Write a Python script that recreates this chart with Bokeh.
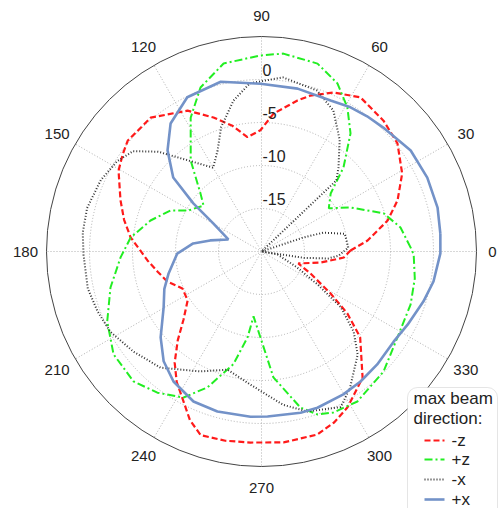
import numpy as np
from bokeh.plotting import figure
from bokeh.models import Range1d, BoxAnnotation
from bokeh.core.properties import value
from bokeh.embed import file_html
from bokeh.resources import INLINE

# ---------------- data ----------------
angle_ticks = [0, 30, 60, 90, 120, 150, 180, 210, 240, 270, 300, 330]
radial_ticks = [-15, -10, -5, 0]
r_min, r_max = -20, 5

negz_ang = [0.6, 5.9, 13.8, 20.6, 29, 38.5, 47, 57.3, 65.6, 72.6, 76.6, 85, 90.5, 97, 103,
            109.7, 117.7, 129.6, 140.4, 145, 150.5, 160, 167, 173.9, 179.5, 184.5, 191, 197.7, 205,
            213.5, 221, 226.7, 232, 237, 242.5, 247, 251.7, 259.2, 266.7, 276.6, 287, 293, 298.9,
            308.7, 319, 324.2, 328.7, 335.8, 342, 349.4, 355.8]
negz_db = [-9.65, -7.6, -4.9, -3.1, -1.3, 0.2, 0.8, 1.3, 0.3, -1.0, -1.95, -3.9, -5.9, -6.6, -5.0,
           -3.45, -1.5, 0.2, 0.2, -0.3, -0.9, -2.55, -3.6, -4.7, -5.9, -6.7, -7.7, -8.5, -9.85,
           -9.7, -8.0, -5.8, -3.6, -1.9, -0.35, 1.3, 2.5, 2.4, 2.25, 2.35, 2.25, 1.6, 0.7,
           -1.2, -4.8, -7.7, -10.6, -13.75, -15.5, -13.0, -10.4]

posz_ang = [1.5, 9.8, 17.3, 26.3, 32.7, 40, 45.7, 53, 59.2, 65.7, 73.4, 83.7, 90.3, 101.4,
            110.4, 117.9, 127.9, 136.4, 141.6, 151, 155.7, 164.4, 173.9, 182.4, 193.4, 204.4,
            214.8, 225.4, 233.6, 241.9, 248.3, 256, 260.8, 263, 269.3, 275.4, 284, 289, 294.1,
            302.6, 315.5, 327.7, 340.4, 350, 358.9]
posz_db = [-2.65, -3.6, -5.1, -8.45, -10.7, -9.5, -6.35, -2.8, -0.5, 1.45, 2.8, 3.15, 2.8, 2.3,
           0.35, -2.4, -6.6, -10.2, -11.4, -10.2, -8.4, -6.6, -4.7, -3.6, -1.95, -0.3,
           0.95, 1.2, 0.4, -0.75, -3.0, -6.5, -9.9, -12.4, -10.0, -5.3, -1.3, 0.05, 0.5,
           0.7, -0.1, -1.3, -1.6, -1.9, -2.3]

negx_ang = [2.6, 12, 17, 18.5, 19.5, 43, 43.5, 47.5, 55, 63, 71, 83, 94, 100.5, 108, 113.5,
            120, 129, 136, 142, 148, 156, 166, 174, 181, 192, 200, 208, 218, 229, 243, 254,
            265, 278, 286, 297, 303, 313, 319, 325, 329.5, 336, 349.4, 350.5, 351.5, 354, 357]
negx_db = [-9.9, -10.1, -12.5, -15.0, -20.0, -20.0, -8.0, -6.75, -4.15, -1.6, -0.2, 0.4, -0.4,
           -2.15, -4.8, -7.2, -8.75, -6.35, -3.3, -1.05, -0.2, 0.45, 0.9, 0.9, 0.7, 0.65, 0.3,
           -0.1, -1.1, -2.1, -4.35, -5.7, -4.5, -2.0, -0.65, 0.3, -1.1, -3.6, -5.8, -8.75,
           -12.4, -15.5, -18.1, -20.0, -15.0, -12.2, -11.0]

posx_ang = [5.7, 14, 24, 34.1, 45.5, 52, 58.3, 65.4, 77.5, 90.3, 103.5, 115.7, 125.4, 132.9, 140,
            144.8, 149.7, 160, 167.8, 173.3, 181.4, 193.3, 201, 209.7, 220.4, 228.3, 235.9, 245.6,
            254.6, 266.2, 272.1, 283.6, 289.7, 299.8, 307.3, 315.7, 325.7, 333.4, 342.8, 350.1,
            359.4]
posx_db = [0.9, 1.1, 1.1, 0.95, 0.2, -0.05, -0.3, -0.7, -0.6, -0.5, 0.3, -0.1, -1.75, -3.95, -6.6,
           -10.3, -13.5, -15.9, -13.9, -12.0, -10.2, -8.9, -7.9, -6.9, -4.6, -2.9, -1.75, -0.85,
           -0.7, -0.75, -0.8, -0.7, -0.7, -0.85, -1.0, -1.2, -1.4, -1.0, -0.3, 0.3,
           0.8]

series_names = ["-z", "+z", "-x", "+x"]
series_colors = ["#ff1a1a", "#22ee22", "#333333", "#7392c8"]
series_dash = ["6 3", "8 3 2 3", "1 2", "solid"]
series_width = [2.2, 2.0, 2.0, 2.6]
series_data = [(negz_ang, negz_db), (posz_ang, posz_db), (negx_ang, negx_db), (posx_ang, posx_db)]

# ---------------- figure ----------------
S = 8.6  # px per dB unit
W, H = 500, 508
cx, cy = 261, 251  # center in figure px
p = figure(width=W, height=H, output_backend="svg", toolbar_location=None,
           x_range=Range1d(-cx / S, (W - cx) / S), y_range=Range1d(-(H - cy) / S, cy / S),
           min_border=0, outline_line_color=None)
p.axis.visible = False
p.grid.visible = False
p.background_fill_color = "white"

def to_xy(ang, db):
    a = np.deg2rad(np.asarray(ang, dtype=float))
    rho = np.clip(np.asarray(db, dtype=float) - r_min, 0, None)
    return rho * np.cos(a), rho * np.sin(a)

R_out = r_max - r_min
# grid circles
p.circle(x=[0] * len(radial_ticks), y=[0] * len(radial_ticks),
         radius=[t - r_min for t in radial_ticks], fill_color=None,
         line_color="#b0b0b0", line_dash="1 2", line_width=1)
# spokes
ta = np.deg2rad(angle_ticks)
p.segment(x0=0, y0=0, x1=list(R_out * np.cos(ta)), y1=list(R_out * np.sin(ta)),
          line_color="#b0b0b0", line_dash="1 2", line_width=1)
# outer circle
p.circle(x=[0], y=[0], radius=[R_out], fill_color=None, line_color="#444444", line_width=1)

# curves
for (ang, db), col, dash, lw in zip(series_data, series_colors, series_dash, series_width):
    x, y = to_xy(list(ang) + [ang[0]], list(db) + [db[0]])
    p.line(x=list(x), y=list(y), line_color=col, line_dash=dash, line_width=lw)

# angle labels
lab_r = np.array([231 if a == 0 else 236 for a in angle_ticks]) / S
p.text(x=list(lab_r * np.cos(ta)), y=list(lab_r * np.sin(ta)), text=[str(a) for a in angle_ticks],
       text_align="center", text_baseline="middle", text_font=value("Liberation Sans"),
       text_font_size="15px", text_color="#222222")
# radial labels
p.text(x=[1 / S] * len(radial_ticks), y=[t - r_min + 1.05 for t in radial_ticks],
       text=[str(t) for t in radial_ticks], text_align="left", text_baseline="middle",
       text_font=value("Liberation Sans"), text_font_size="16px", text_color="#222222")

# legend
def px(xp):
    return (xp - cx) / S

def py(yp):
    return (cy - yp) / S

box = BoxAnnotation(left=px(407), right=px(497), top=py(387), bottom=py(520),
                    fill_color="white", fill_alpha=1.0, line_color="#aaaaaa", line_width=1,
                    border_radius=10)
p.add_layout(box)
t1 = p.text(x=[px(413), px(413)], y=[py(398), py(418)], text=["max beam", "direction:"],
            text_align="left", text_baseline="middle", text_font=value("Liberation Sans"),
            text_font_size="17px", text_color="#222222")
t1.level = "overlay"
ys = [440, 459, 479, 499]
for i, (nm, col, dash, lw) in enumerate(zip(series_names, series_colors, series_dash, series_width)):
    r = p.line(x=[px(424), px(444)], y=[py(ys[i]), py(ys[i])], line_color=col, line_dash=dash,
               line_width=lw)
    r.level = "overlay"
t2 = p.text(x=[px(451)] * 4, y=[py(v) for v in ys], text=series_names, text_align="left",
            text_baseline="middle", text_font=value("Liberation Sans"), text_font_size="17px",
            text_color="#222222")
t2.level = "overlay"

open("out.html", "w").write(file_html(p, INLINE))
